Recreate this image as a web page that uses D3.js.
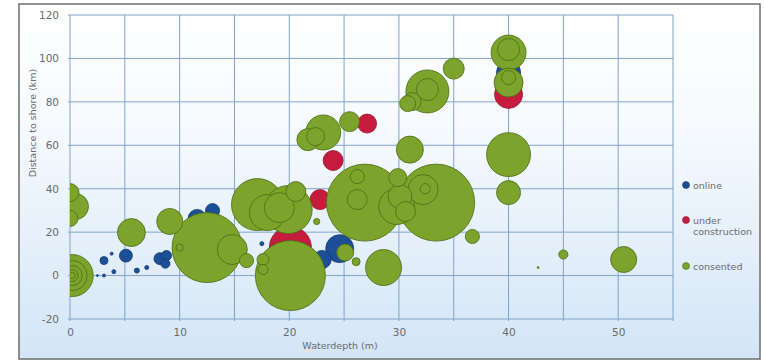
<!DOCTYPE html>
<html>
<head>
<meta charset="utf-8">
<script src="https://cdn.jsdelivr.net/npm/d3@7"></script>
<style>
  html, body { margin: 0; padding: 0; background: #ffffff; }
  svg { display: block; }
  text { font-family: "DejaVu Sans", Verdana, sans-serif; fill: #6a6a6a; }
</style>
</head>
<body>
<svg id="chart" width="764" height="363"></svg>
<script>
// Offshore wind farms: water depth (m), distance to shore (km), capacity (MW)
const online = [
  { depth: 2.5,  dist: 0.0,  mw: 0.6 },
  { depth: 3.1,  dist: 0.0,  mw: 1.4 },
  { depth: 4.0,  dist: 1.8,  mw: 2.5 },
  { depth: 6.1,  dist: 2.3,  mw: 3.9 },
  { depth: 7.0,  dist: 3.7,  mw: 2.5 },
  { depth: 3.1,  dist: 6.9,  mw: 10 },
  { depth: 3.8,  dist: 10.1, mw: 1.4 },
  { depth: 5.1,  dist: 9.2,  mw: 26 },
  { depth: 8.2,  dist: 7.8,  mw: 22 },
  { depth: 8.8,  dist: 9.2,  mw: 16 },
  { depth: 8.7,  dist: 5.5,  mw: 13 },
  { depth: 11.6, dist: 26.3, mw: 51 },
  { depth: 13.0, dist: 29.9, mw: 31 },
  { depth: 17.5, dist: 14.7, mw: 2.5 },
  { depth: 24.6, dist: 12.4, mw: 122 },
  { depth: 23.0, dist: 7.4,  mw: 51 },
  { depth: 40.0, dist: 93.5, mw: 90 }
];

const underConstruction = [
  { depth: 20.1, dist: 12.9, mw: 276 },
  { depth: 22.8, dist: 35.0, mw: 62 },
  { depth: 24.0, dist: 53.0, mw: 62 },
  { depth: 27.1, dist: 70.0, mw: 56 },
  { depth: 40.0, dist: 83.4, mw: 122 }
];

const consented = [
  { depth: 0.2,  dist: 0.0,   mw: 276 },
  { depth: 0.2,  dist: 0.0,   mw: 141 },
  { depth: 0.2,  dist: 0.0,   mw: 62 },
  { depth: 0.2,  dist: 0.0,   mw: 22 },
  { depth: 0.2,  dist: 0.0,   mw: 6 },
  { depth: 0.0,  dist: 38.2,  mw: 51 },
  { depth: 0.5,  dist: 31.8,  mw: 106 },
  { depth: 0.0,  dist: 26.3,  mw: 40 },
  { depth: 5.6,  dist: 19.8,  mw: 122 },
  { depth: 9.1,  dist: 24.9,  mw: 106 },
  { depth: 12.5, dist: 12.9,  mw: 766 },
  { depth: 10.0, dist: 12.9,  mw: 8 },
  { depth: 14.8, dist: 12.0,  mw: 141 },
  { depth: 16.1, dist: 6.9,   mw: 31 },
  { depth: 17.1, dist: 32.7,  mw: 422 },
  { depth: 19.9, dist: 30.4,  mw: 360 },
  { depth: 18.0, dist: 29.0,  mw: 202 },
  { depth: 19.1, dist: 31.3,  mw: 141 },
  { depth: 20.6, dist: 38.7,  mw: 62 },
  { depth: 20.1, dist: 0.0,   mw: 766 },
  { depth: 17.6, dist: 7.4,   mw: 22 },
  { depth: 17.6, dist: 2.8,   mw: 16 },
  { depth: 25.1, dist: 10.6,  mw: 45 },
  { depth: 26.1, dist: 6.4,   mw: 10 },
  { depth: 28.6, dist: 3.7,   mw: 202 },
  { depth: 22.5, dist: 24.9,  mw: 6 },
  { depth: 26.9, dist: 33.6,  mw: 926 },
  { depth: 33.4, dist: 33.6,  mw: 926 },
  { depth: 26.2, dist: 45.6,  mw: 31 },
  { depth: 26.2, dist: 35.0,  mw: 62 },
  { depth: 29.9, dist: 45.1,  mw: 51 },
  { depth: 30.1, dist: 36.4,  mw: 90 },
  { depth: 30.6, dist: 29.5,  mw: 62 },
  { depth: 32.2, dist: 39.6,  mw: 141 },
  { depth: 32.4, dist: 40.0,  mw: 16 },
  { depth: 29.8, dist: 31.8,  mw: 202 },
  { depth: 23.1, dist: 65.9,  mw: 191 },
  { depth: 21.7, dist: 62.6,  mw: 76 },
  { depth: 22.4, dist: 64.0,  mw: 51 },
  { depth: 25.5, dist: 70.9,  mw: 62 },
  { depth: 31.0, dist: 58.0,  mw: 114 },
  { depth: 32.6, dist: 84.8,  mw: 289 },
  { depth: 32.6, dist: 85.7,  mw: 76 },
  { depth: 31.2, dist: 80.1,  mw: 51 },
  { depth: 30.8, dist: 79.2,  mw: 40 },
  { depth: 35.0, dist: 95.3,  mw: 69 },
  { depth: 40.0, dist: 102.7, mw: 191 },
  { depth: 40.0, dist: 104.1, mw: 76 },
  { depth: 40.0, dist: 88.9,  mw: 131 },
  { depth: 40.0, dist: 91.2,  mw: 31 },
  { depth: 40.0, dist: 55.7,  mw: 302 },
  { depth: 40.0, dist: 38.2,  mw: 90 },
  { depth: 36.7, dist: 18.0,  mw: 31 },
  { depth: 45.0, dist: 9.7,   mw: 13 },
  { depth: 50.5, dist: 7.4,   mw: 106 },
  { depth: 42.7, dist: 3.7,   mw: 0.6 }
];

const xTickValues = [0, 10, 20, 30, 40, 50];
const yTickValues = [-20, 0, 20, 40, 60, 80, 100, 120];
const legendLabels = [["online"], ["under", "construction"], ["consented"]];

const series = [
  { name: "online", data: online, fill: "#1d4f97", stroke: "#143b75" },
  { name: "under construction", data: underConstruction, fill: "#c51c3d", stroke: "#9c1430" },
  { name: "consented", data: consented, fill: "#7ca42c", stroke: "#4d6e16" }
];

const svg = d3.select("#chart");
const plot = { left: 70, right: 673, top: 15, bottom: 319 };

const x = d3.scaleLinear().domain([0, 55]).range([plot.left, plot.right]);
const y = d3.scaleLinear().domain([-20, 120]).range([plot.bottom, plot.top]);
const r = d3.scaleSqrt().domain([0, 1000]).range([0, 40]);

// Panel background and frame
const defs = svg.append("defs");
const grad = defs.append("linearGradient")
  .attr("id", "panelBg").attr("x1", 0).attr("y1", 0).attr("x2", 0).attr("y2", 1);
grad.append("stop").attr("offset", "0%").attr("stop-color", "#ffffff");
grad.append("stop").attr("offset", "35%").attr("stop-color", "#f6fafe");
grad.append("stop").attr("offset", "100%").attr("stop-color", "#d3e5f6");

defs.append("clipPath").attr("id", "plotClip")
  .append("rect")
  .attr("x", plot.left).attr("y", plot.top)
  .attr("width", plot.right - plot.left).attr("height", plot.bottom - plot.top);

svg.append("rect")
  .attr("x", 19).attr("y", 4).attr("width", 741).attr("height", 355)
  .attr("fill", "url(#panelBg)")
  .attr("stroke", "#6e6e6e").attr("stroke-width", 1.5);

// Grid: vertical lines every 5 m, horizontal lines every 20 km
const gridColor = "#80a3c9";
const g = svg.append("g");
g.selectAll("line.vx")
  .data(d3.range(0, 56, 5))
  .join("line")
  .attr("x1", d => x(d)).attr("x2", d => x(d))
  .attr("y1", plot.top).attr("y2", plot.bottom + 2)
  .attr("stroke", gridColor).attr("stroke-width", 1);
g.selectAll("line.hy")
  .data(yTickValues)
  .join("line")
  .attr("x1", plot.left - 2).attr("x2", plot.right)
  .attr("y1", d => y(d)).attr("y2", d => y(d))
  .attr("stroke", gridColor).attr("stroke-width", 1);

// Axis tick labels through D3 axes (lines hidden, labels kept)
const plainNumber = d => String(d);
const xAxis = svg.append("g")
  .attr("transform", `translate(0,${plot.bottom})`)
  .call(d3.axisBottom(x).tickValues(xTickValues).tickFormat(plainNumber).tickSize(0).tickPadding(10));
const yAxis = svg.append("g")
  .attr("transform", `translate(${plot.left},0)`)
  .call(d3.axisLeft(y).tickValues(yTickValues).tickFormat(plainNumber).tickSize(0).tickPadding(11));
[xAxis, yAxis].forEach(a => {
  a.select(".domain").remove();
  a.selectAll("text")
    .attr("fill", "#6a6a6a")
    .style("font-family", "'DejaVu Sans', Verdana, sans-serif")
    .style("font-size", "10.5px");
});

// Axis titles
svg.append("text")
  .attr("x", 340).attr("y", 349)
  .attr("text-anchor", "middle")
  .style("font-size", "9.5px")
  .text("Waterdepth (m)");
svg.append("text")
  .attr("transform", "translate(36,123) rotate(-90)")
  .attr("text-anchor", "middle")
  .style("font-size", "9.5px")
  .text("Distance to shore (km)");

// Bubbles: online first, then under construction, then consented (largest first)
const bubbles = svg.append("g").attr("clip-path", "url(#plotClip)");
series.forEach(s => {
  const sorted = s.data.slice().sort((a, b) => b.mw - a.mw);
  bubbles.append("g")
    .selectAll("circle")
    .data(sorted)
    .join("circle")
    .attr("cx", d => x(d.depth))
    .attr("cy", d => y(d.dist))
    .attr("r", d => Math.max(r(d.mw), 0.8))
    .attr("fill", s.fill)
    .attr("stroke", s.stroke)
    .attr("stroke-width", 1)
    .attr("stroke-opacity", 0.85);
});

// Legend
const legendY = [185, 220, 266];
const legend = svg.append("g");
series.forEach((s, i) => {
  legend.append("circle")
    .attr("cx", 686).attr("cy", legendY[i]).attr("r", 3.5)
    .attr("fill", s.fill).attr("stroke", s.stroke).attr("stroke-width", 0.6);
  const t = legend.append("text")
    .attr("x", 693).attr("y", legendY[i] + 3.5)
    .style("font-size", "9.5px");
  legendLabels[i].forEach((line, j) => {
    t.append("tspan").attr("x", 693).attr("dy", j === 0 ? 0 : 11).text(line);
  });
});
</script>
</body>
</html>
